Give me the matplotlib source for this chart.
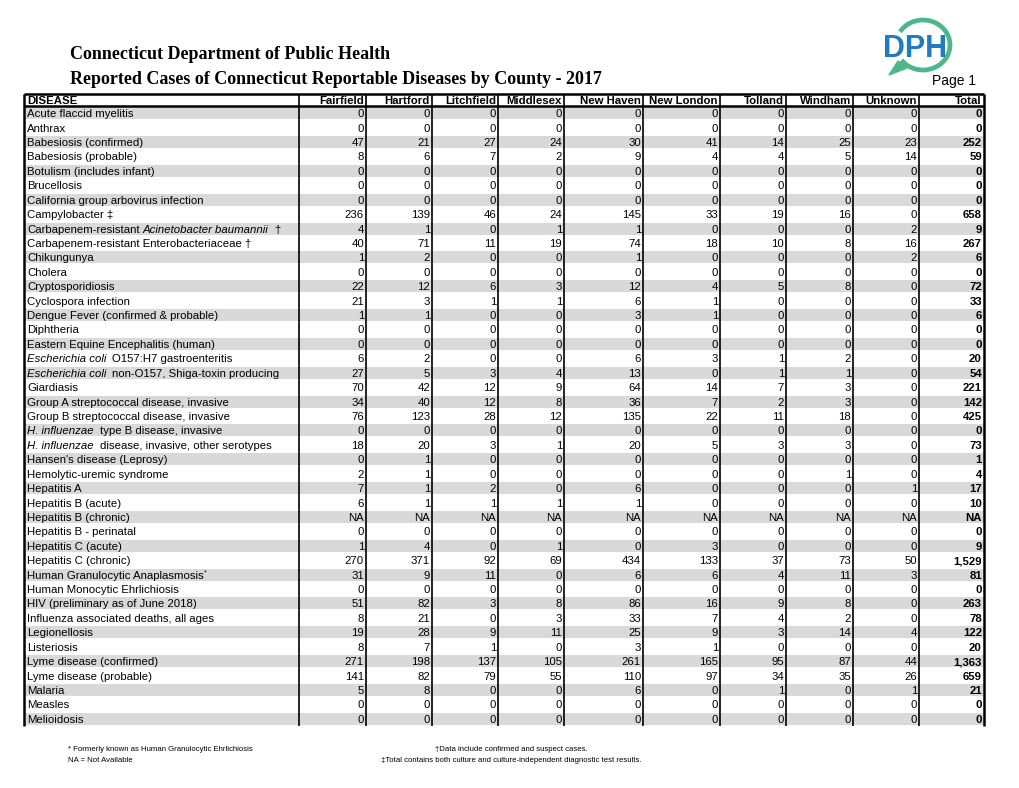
import matplotlib
matplotlib.use("Agg")
import matplotlib.pyplot as plt
from matplotlib.patches import Arc, Polygon, Rectangle

# "|" toggles italic, trailing "^*" is a superscript star
diseases = [
    "Acute flaccid myelitis",
    "Anthrax",
    "Babesiosis (confirmed)",
    "Babesiosis (probable)",
    "Botulism (includes infant)",
    "Brucellosis",
    "California group arbovirus infection",
    "Campylobacter ‡",
    "Carbapenem-resistant |Acinetobacter baumannii| †",
    "Carbapenem-resistant Enterobacteriaceae †",
    "Chikungunya",
    "Cholera",
    "Cryptosporidiosis",
    "Cyclospora infection",
    "Dengue Fever (confirmed & probable)",
    "Diphtheria",
    "Eastern Equine Encephalitis (human)",
    "|Escherichia coli| O157:H7 gastroenteritis",
    "|Escherichia coli| non-O157, Shiga-toxin producing",
    "Giardiasis",
    "Group A streptococcal disease, invasive",
    "Group B streptococcal disease, invasive",
    "|H. influenzae| type B disease, invasive",
    "|H. influenzae| disease, invasive, other serotypes",
    "Hansen's disease (Leprosy)",
    "Hemolytic-uremic syndrome",
    "Hepatitis A",
    "Hepatitis B (acute)",
    "Hepatitis B (chronic)",
    "Hepatitis B - perinatal",
    "Hepatitis C (acute)",
    "Hepatitis C (chronic)",
    "Human Granulocytic Anaplasmosis^*",
    "Human Monocytic Ehrlichiosis",
    "HIV (preliminary as of June 2018)",
    "Influenza associated deaths, all ages",
    "Legionellosis",
    "Listeriosis",
    "Lyme disease (confirmed)",
    "Lyme disease (probable)",
    "Malaria",
    "Measles",
    "Melioidosis",
]

NA = None
fairfield = [0, 0, 47, 8, 0, 0, 0, 236, 4, 40, 1, 0, 22, 21, 1, 0, 0, 6, 27, 70, 34, 76,
             0, 18, 0, 2, 7, 6, NA, 0, 1, 270, 31, 0, 51, 8, 19, 8, 271, 141, 5, 0, 0]
hartford = [0, 0, 21, 6, 0, 0, 0, 139, 1, 71, 2, 0, 12, 3, 1, 0, 0, 2, 5, 42, 40, 123,
            0, 20, 1, 1, 1, 1, NA, 0, 4, 371, 9, 0, 82, 21, 28, 7, 198, 82, 8, 0, 0]
litchfield = [0, 0, 27, 7, 0, 0, 0, 46, 0, 11, 0, 0, 6, 1, 0, 0, 0, 0, 3, 12, 12, 28,
              0, 3, 0, 0, 2, 1, NA, 0, 0, 92, 11, 0, 3, 0, 9, 1, 137, 79, 0, 0, 0]
middlesex = [0, 0, 24, 2, 0, 0, 0, 24, 1, 19, 0, 0, 3, 1, 0, 0, 0, 0, 4, 9, 8, 12,
             0, 1, 0, 0, 0, 1, NA, 0, 1, 69, 0, 0, 8, 3, 11, 0, 105, 55, 0, 0, 0]
new_haven = [0, 0, 30, 9, 0, 0, 0, 145, 1, 74, 1, 0, 12, 6, 3, 0, 0, 6, 13, 64, 36, 135,
             0, 20, 0, 0, 6, 1, NA, 0, 0, 434, 6, 0, 86, 33, 25, 3, 261, 110, 6, 0, 0]
new_london = [0, 0, 41, 4, 0, 0, 0, 33, 0, 18, 0, 0, 4, 1, 1, 0, 0, 3, 0, 14, 7, 22,
              0, 5, 0, 0, 0, 0, NA, 0, 3, 133, 6, 0, 16, 7, 9, 1, 165, 97, 0, 0, 0]
tolland = [0, 0, 14, 4, 0, 0, 0, 19, 0, 10, 0, 0, 5, 0, 0, 0, 0, 1, 1, 7, 2, 11,
           0, 3, 0, 0, 0, 0, NA, 0, 0, 37, 4, 0, 9, 4, 3, 0, 95, 34, 1, 0, 0]
windham = [0, 0, 25, 5, 0, 0, 0, 16, 0, 8, 0, 0, 8, 0, 0, 0, 0, 2, 1, 3, 3, 18,
           0, 3, 0, 1, 0, 0, NA, 0, 0, 73, 11, 0, 8, 2, 14, 0, 87, 35, 0, 0, 0]
unknown = [0, 0, 23, 14, 0, 0, 0, 0, 2, 16, 2, 0, 0, 0, 0, 0, 0, 0, 0, 0, 0, 0,
           0, 0, 0, 0, 1, 0, NA, 0, 0, 50, 3, 0, 0, 0, 4, 0, 44, 26, 1, 0, 0]
total = [0, 0, 252, 59, 0, 0, 0, 658, 9, 267, 6, 0, 72, 33, 6, 0, 0, 20, 54, 221, 142, 425,
         0, 73, 1, 4, 17, 10, NA, 0, 9, 1529, 81, 0, 263, 78, 122, 20, 1363, 659, 21, 0, 0]

counties = ["Fairfield", "Hartford", "Litchfield", "Middlesex", "New Haven",
            "New London", "Tolland", "Windham", "Unknown", "Total"]
columns = [fairfield, hartford, litchfield, middlesex, new_haven,
           new_london, tolland, windham, unknown, total]

title1 = "Connecticut Department of Public Health"
title2 = "Reported Cases of Connecticut Reportable Diseases by County - 2017"
notes_left = ["* Formerly known as Human Granulocytic Ehrlichiosis", "NA = Not Available"]
notes_right = ["\u2020Data include confirmed and suspect cases.",
               "\u2021Total contains both culture and culture-independent diagnostic test results."]

# layout (pixels)
W, H = 1020, 788
TABLE_LEFT, NAME_RIGHT = 24, 299
COL_RIGHT = [366, 432, 498, 564, 643, 720, 786, 853, 919, 984]
HEAD_TOP, HEAD_BOT, TABLE_BOT = 94, 106, 726
ROW_H = (TABLE_BOT - HEAD_BOT) / len(diseases)
GRAY = "#d9d9d9"
SANS = "Liberation Sans"
FS = 8.2

fig = plt.figure(figsize=(W / 100, H / 100), dpi=100)
ax = fig.add_axes([0, 0, 1, 1])
ax.set_xlim(0, W)
ax.set_ylim(H, 0)
ax.axis("off")
renderer = fig.canvas.get_renderer()


def text_right_edge(t):
    bb = t.get_window_extent(renderer=renderer)
    return ax.transData.inverted().transform((bb.x1, bb.y0))[0]


def draw_name(x, y, name):
    sup = name.endswith("^*")
    if sup:
        name = name[:-2]
    parts = name.split("|")
    for i, part in enumerate(parts):
        if not part:
            continue
        if part.startswith(" ") and i > 0:
            x += 6 if i % 2 == 0 else 3.2
        t = ax.text(x, y, part.strip(), fontsize=FS, family=SANS, va="baseline", ha="left",
                    style="italic" if i % 2 == 1 else "normal")
        x = text_right_edge(t)
        if part.endswith(" ") and i < len(parts) - 1:
            x += 3.2
    if sup:
        ax.text(x + 0.5, y - 4, "*", fontsize=4.8, family=SANS, va="baseline", ha="left")


# gray bands
for i in range(len(diseases)):
    if i % 2 == 0:
        y0 = HEAD_BOT + i * ROW_H
        ax.add_patch(Rectangle((TABLE_LEFT, y0 + 0.08 * ROW_H), COL_RIGHT[-1] - TABLE_LEFT,
                               0.84 * ROW_H, facecolor=GRAY, edgecolor="none", zorder=0))

# header
ax.text(TABLE_LEFT + 3, (HEAD_TOP + HEAD_BOT) / 2 + 4, "DISEASE", fontsize=FS,
        family=SANS, weight="bold", va="baseline", ha="left")
for xr, name in zip(COL_RIGHT, counties):
    ax.text(xr - 2, (HEAD_TOP + HEAD_BOT) / 2 + 4, name, fontsize=FS, family=SANS,
            weight="bold", va="baseline", ha="right")

# rows
for i, name in enumerate(diseases):
    yb = HEAD_BOT + (i + 0.5) * ROW_H + 4
    draw_name(TABLE_LEFT + 3, yb, name)
    for j, (xr, col) in enumerate(zip(COL_RIGHT, columns)):
        v = col[i]
        s = "NA" if v is None else f"{v:,}"
        ax.text(xr - 2, yb, s, fontsize=FS, family=SANS, va="baseline", ha="right",
                weight="bold" if j == len(columns) - 1 else "normal")

# grid lines
for x in [NAME_RIGHT] + COL_RIGHT[:-1]:
    ax.plot([x, x], [HEAD_TOP, TABLE_BOT], color="black", lw=1.2, solid_capstyle="butt")
for x in [TABLE_LEFT, COL_RIGHT[-1]]:
    ax.plot([x, x], [HEAD_TOP, TABLE_BOT], color="black", lw=1.8, solid_capstyle="butt")
for y in [HEAD_TOP, HEAD_BOT]:
    ax.plot([TABLE_LEFT, COL_RIGHT[-1]], [y, y], color="black", lw=1.8, solid_capstyle="butt")

# titles
ax.text(70, 59, title1, fontsize=13, family="Liberation Serif", weight="bold", va="baseline")
ax.text(70, 84, title2, fontsize=13, family="Liberation Serif", weight="bold", va="baseline")
ax.text(976, 85, "Page 1", fontsize=10, family=SANS, ha="right", va="baseline")

# DPH logo
green, blue = "#4db78b", "#1f7cc1"
ax.add_patch(Arc((923, 45), 54, 50, theta1=-150, theta2=145, color=green, lw=3.4))
ax.add_patch(Polygon([(898, 61), (907, 68), (889, 75)], closed=True, color=green))
ax.text(915, 57, "DPH", fontsize=22, family=SANS, weight="bold", color=blue,
        ha="center", va="baseline")

# footnotes
for k, s in enumerate(notes_left):
    ax.text(68, 751 + k * 11, s, fontsize=5.6, family=SANS, va="baseline", ha="left")
for k, s in enumerate(notes_right):
    ax.text(511, 751 + k * 11, s, fontsize=5.6, family=SANS, va="baseline", ha="center")

fig.savefig("out.png", dpi=100)
